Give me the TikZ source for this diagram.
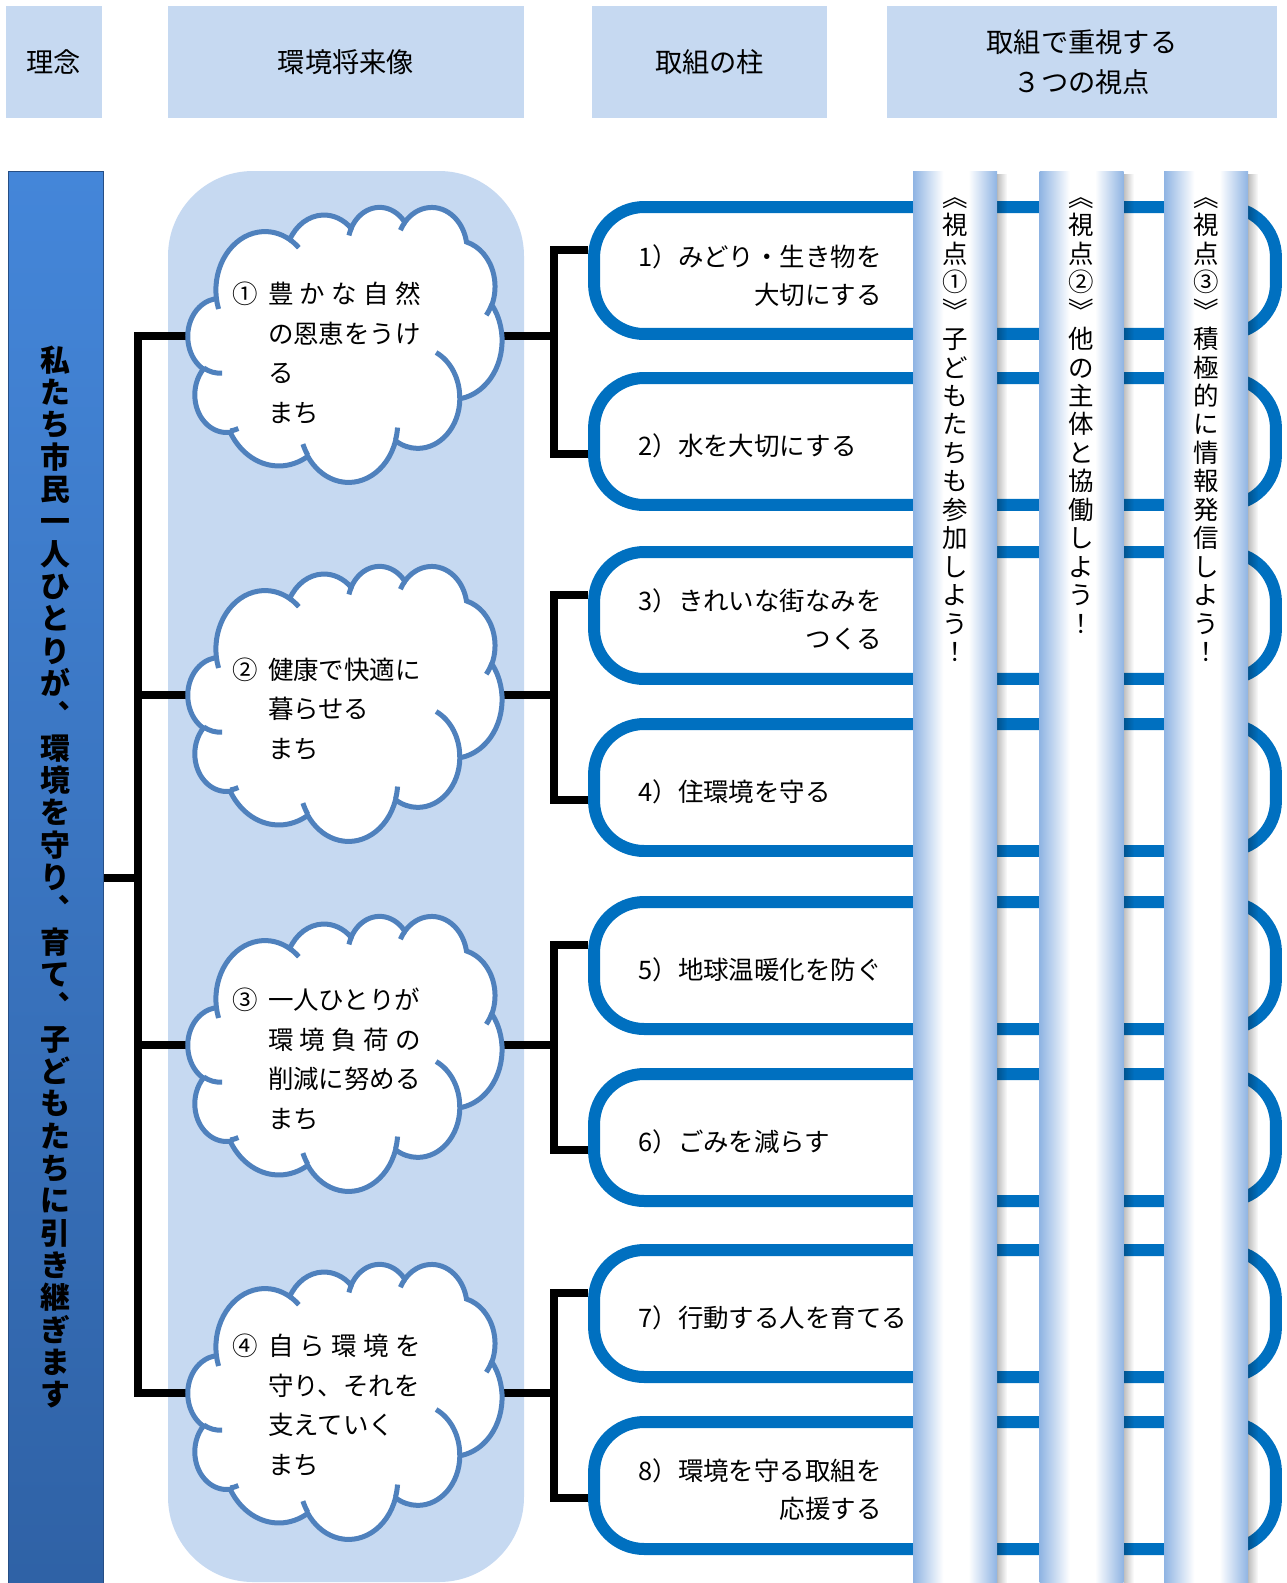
\documentclass[tikz,border=0pt]{standalone}
\usepackage{fontspec}
\setmainfont{Noto Sans CJK JP}
\usetikzlibrary{backgrounds,
  fadings}

\definecolor{paleblue}{HTML}{C6D9F1}
\definecolor{pillarblue}{HTML}{8FB4E3}
\definecolor{frameblue}{HTML}{0070C0}
\definecolor{puffblue}{HTML}{4F81BD}
\definecolor{bartop}{HTML}{4486D9}
\definecolor{barbottom}{HTML}{2F62A6}

\pgfdeclarehorizontalshading{shitenshade}{100bp}{color(0bp)=(pillarblue); color(25bp)=(pillarblue); color(43bp)=(white); color(58bp)=(white); color(75bp)=(pillarblue); color(100bp)=(pillarblue)}

% vertical text: one character per line
\ExplSyntaxOn
\NewDocumentCommand \tate { O{1.1em} m }
  {
    \vbox:n
      {
        \skip_set:Nn \baselineskip {#1}
        \dim_set:Nn \lineskiplimit { -\c_max_dim }
        \tl_map_inline:nn {#2} { \hbox_to_wd:nn { 1em } { \hss ##1 \hss } }
      }
  }
\ExplSyntaxOff

\newcommand\kskip{\hphantom{①}\hspace{0.4em}}

% cloud: name, x, y of the connector
\newcommand\kumo[3]{%
  \node[cloudbox] (#1) at (#2,#3) {};
  \begin{scope}[shift={(#2-157,#3-129.5)},x=0.014537cm,y=-0.012731cm]
    \path[puff] (39,143.7)
      arc[x radius=0.9817cm,y radius=1.1700cm,start angle=187.745,end angle=59.64]
      arc[x radius=0.7753cm,y radius=0.9252cm,start angle=152.02,end angle=45.45]
      arc[x radius=0.6345cm,y radius=0.7569cm,start angle=153.48,end angle=37.31]
      arc[x radius=0.7061cm,y radius=0.8396cm,start angle=139.70,end angle=10.21]
      arc[x radius=0.7753cm,y radius=0.9259cm,start angle=74.77,end angle=-23.21]
      arc[x radius=0.9849cm,y radius=1.1738cm,start angle=37.53,end angle=-81.86]
      arc[x radius=0.8410cm,y radius=1.0016cm,start angle=-0.46,end angle=-121.98]
      arc[x radius=0.9815cm,y radius=1.1732cm,start angle=-16.84,end angle=-146.25]
      arc[x radius=1.1223cm,y radius=1.3422cm,start angle=-58.98,end angle=-150.20]
      arc[x radius=0.6338cm,y radius=0.7534cm,start angle=-83.31,end angle=-223.11]
      arc[x radius=0.6316cm,y radius=0.7569cm,start angle=-120.36,end angle=-264.11]
      -- cycle;
    \draw[puffline] (46.93,261.77) arc[x radius=0.6316cm,y radius=0.7569cm,start angle=-85.55,end angle=-120.36];
    \draw[puffline] (69.28,348.99) arc[x radius=0.6338cm,y radius=0.7534cm,start angle=-68.24,end angle=-83.31];
    \draw[puffline] (164.78,390.90) arc[x radius=0.9815cm,y radius=1.1732cm,start angle=-146.25,end angle=-158.47];
    \draw[puffline] (288.27,347.51) arc[x radius=0.9815cm,y radius=1.1732cm,start angle=-4.74,end angle=-16.84];
    \draw[puffline] (341.29,229.54) arc[x radius=0.8410cm,y radius=1.0016cm,start angle=64.03,end angle=-0.46];
    \draw[puffline] (417.98,153.54) arc[x radius=0.7753cm,y radius=0.9259cm,start angle=-23.21,end angle=-39.16];
    \draw[puffline] (140.05,52.02) arc[x radius=0.9817cm,y radius=1.1700cm,start angle=59.64,end angle=46.38];
    \draw[puffline] (224.54,34.30) arc[x radius=0.6345cm,y radius=0.7569cm,start angle=153.48,end angle=165.04];
    \draw[puffline] (298.31,24.80) arc[x radius=0.7061cm,y radius=0.8396cm,start angle=139.70,end angle=152.72];
    \draw[puffline] (39,143.7) arc[x radius=0.9817cm,y radius=1.1700cm,start angle=187.745,end angle=198.91];
  \end{scope}}

\begin{document}
\begin{tikzpicture}[x=0.02cm,y=-0.02cm]
  \tikzstyle{midashi}=[fill=paleblue,inner sep=0pt,align=center,minimum height=2.24cm,font=\fontsize{15.5}{22.4}\selectfont]
  \tikzstyle{trunkline}=[line width=0.16cm,line join=miter]
  \tikzstyle{puff}=[draw=puffblue,fill=white,line width=0.1cm]
  \tikzstyle{puffline}=[draw=puffblue,line width=0.1cm]
  \tikzstyle{cloudbox}=[inner sep=0pt,minimum width=6.28cm,minimum height=5.5cm]
  \tikzstyle{kumotext}=[anchor=west,align=left,inner sep=0pt,font=\fontsize{14.5}{22.7}\selectfont]
  \tikzstyle{hashira}=[draw=frameblue,fill=white,line width=0.24cm,rounded corners=1cm,minimum width=13.64cm,minimum height=2.54cm,inner sep=0pt]
  \tikzstyle{hashiratext}=[anchor=west,align=right,inner sep=0pt,font=\fontsize{14.5}{22}\selectfont]
  \tikzstyle{shiten}=[shade,shading=shitenshade,minimum width=1.68cm,minimum height=28.24cm,inner sep=0pt,anchor=north]
  \tikzstyle{shitentext}=[anchor=north,inner sep=0pt,font=\fontsize{14.5}{16}\selectfont]

  \useasboundingbox (0,0) rectangle (1287,1583);

  % headings
  \node[midashi,minimum width=1.92cm] (h_1) at (54,62) {理念};
  \node[midashi,minimum width=7.12cm] (h_2) at (346,62) {環境将来像};
  \node[midashi,minimum width=4.7cm] (h_3) at (709.5,62) {取組の柱};
  \node[midashi,minimum width=7.8cm] (h_4) at (1082,62) {取組で重視する\\３つの視点};

  % idea bar
  \node[draw=barbottom!80!black,line width=0.4pt,top color=bartop,bottom color=barbottom,minimum width=1.9cm,minimum height=28.24cm,inner sep=0pt] (rinen) at (55.5,877) {};
  \node[inner sep=0pt,font=\bfseries\fontsize{17}{18.4}\selectfont] at (rinen.center) {\tate[18.4pt]{私たち市民一人ひとりが︑環境を守り︑育て︑子どもたちに引き継ぎます}};

  % future image clouds
  \kumo{zo_1}{345}{336}
  \kumo{zo_2}{345}{695}
  \kumo{zo_3}{345}{1045}
  \kumo{zo_4}{345}{1393}
  \node[kumotext] at ([xshift=-2.26cm,yshift=-0.34cm]zo_1.center) {①\hspace{0.4em}\makebox[6em][s]{豊\hfil か\hfil な\hfil 自\hfil 然}\\\kskip の恩恵をうけ\\\kskip る\\\kskip まち};
  \node[kumotext] at ([xshift=-2.26cm,yshift=-0.28cm]zo_2.center) {②\hspace{0.4em}健康で快適に\\\kskip 暮らせる\\\kskip まち};
  \node[kumotext] at ([xshift=-2.26cm,yshift=-0.28cm]zo_3.center) {③\hspace{0.4em}一人ひとりが\\\kskip\makebox[6em][s]{環\hfil 境\hfil 負\hfil 荷\hfil の}\\\kskip 削減に努める\\\kskip まち};
  \node[kumotext] at ([xshift=-2.26cm,yshift=-0.24cm]zo_4.center) {④\hspace{0.4em}\makebox[6em][s]{自\hfil ら\hfil 環\hfil 境\hfil を}\\\kskip 守り、それを\\\kskip 支えていく\\\kskip まち};

  % pillars of action
  \node[hashira] (ha_1) at (935,270.5) {};
  \node[hashira] (ha_2) at (935,441.5) {};
  \node[hashira] (ha_3) at (935,615.5) {};
  \node[hashira] (ha_4) at (935,787.5) {};
  \node[hashira] (ha_5) at (935,965.5) {};
  \node[hashira] (ha_6) at (935,1137.5) {};
  \node[hashira] (ha_7) at (935,1313.5) {};
  \node[hashira] (ha_8) at (935,1485.5) {};
  \node[hashiratext] at ([xshift=1cm,yshift=-0.1cm]ha_1.west) {1）みどり・生き物を\\大切にする};
  \node[hashiratext] at ([xshift=1cm,yshift=-0.08cm]ha_2.west) {2）水を大切にする};
  \node[hashiratext] at ([xshift=1cm,yshift=-0.08cm]ha_3.west) {3）きれいな街なみを\\つくる};
  \node[hashiratext] at ([xshift=1cm,yshift=-0.08cm]ha_4.west) {4）住環境を守る};
  \node[hashiratext] at ([xshift=1cm,yshift=-0.08cm]ha_5.west) {5）地球温暖化を防ぐ};
  \node[hashiratext] at ([xshift=1cm,yshift=-0.08cm]ha_6.west) {6）ごみを減らす};
  \node[hashiratext] at ([xshift=1cm,yshift=-0.08cm]ha_7.west) {7）行動する人を育てる};
  \node[hashiratext] at ([xshift=1cm,yshift=-0.08cm]ha_8.west) {8）環境を守る取組を\\応援する};

  % three viewpoints
  \foreach \i/\x in {1/955,2/1081.5,3/1206} {
    \node[shiten] (sh_\i) at (\x,171) {};
    \fill[black,opacity=0.25,path fading=east] (sh_\i.north east) rectangle ([xshift=0.2cm]sh_\i.south east);
  }
  \node[shitentext] at ([yshift=-0.52cm]sh_1.north) {\tate[16.2pt]{︽視点①︾子どもたちも参加しよう！}};
  \node[shitentext] at ([yshift=-0.52cm]sh_2.north) {\tate[16.2pt]{︽視点②︾他の主体と協働しよう！}};
  \node[shitentext] at ([yshift=-0.52cm]sh_3.north) {\tate[16.2pt]{︽視点③︾積極的に情報発信しよう！}};

  % connectors
  \begin{pgfonlayer}{background}
    \fill[paleblue,rounded corners=1.7cm] (168,171) rectangle (524,1582);
    \coordinate (tk) at (138,878);
    \draw[trunkline] (rinen.east |- tk) -- (tk);
    \draw[trunkline] (zo_1.center) -| (tk) |- (zo_4.center);
    \draw[trunkline] (zo_2.center) -- (zo_2.center -| tk);
    \draw[trunkline] (zo_3.center) -- (zo_3.center -| tk);
    \foreach \k/\u/\l in {1/1/2,2/3/4,3/5/6,4/7/8} {
      \draw[trunkline] (zo_\k.center) -- ++(209,0) coordinate (j_\k);
      \draw[trunkline] ([yshift=0.42cm]ha_\u.west) -| (j_\k) |- ([yshift=-0.24cm]ha_\l.west);
    }
  \end{pgfonlayer}
\end{tikzpicture}
\end{document}
